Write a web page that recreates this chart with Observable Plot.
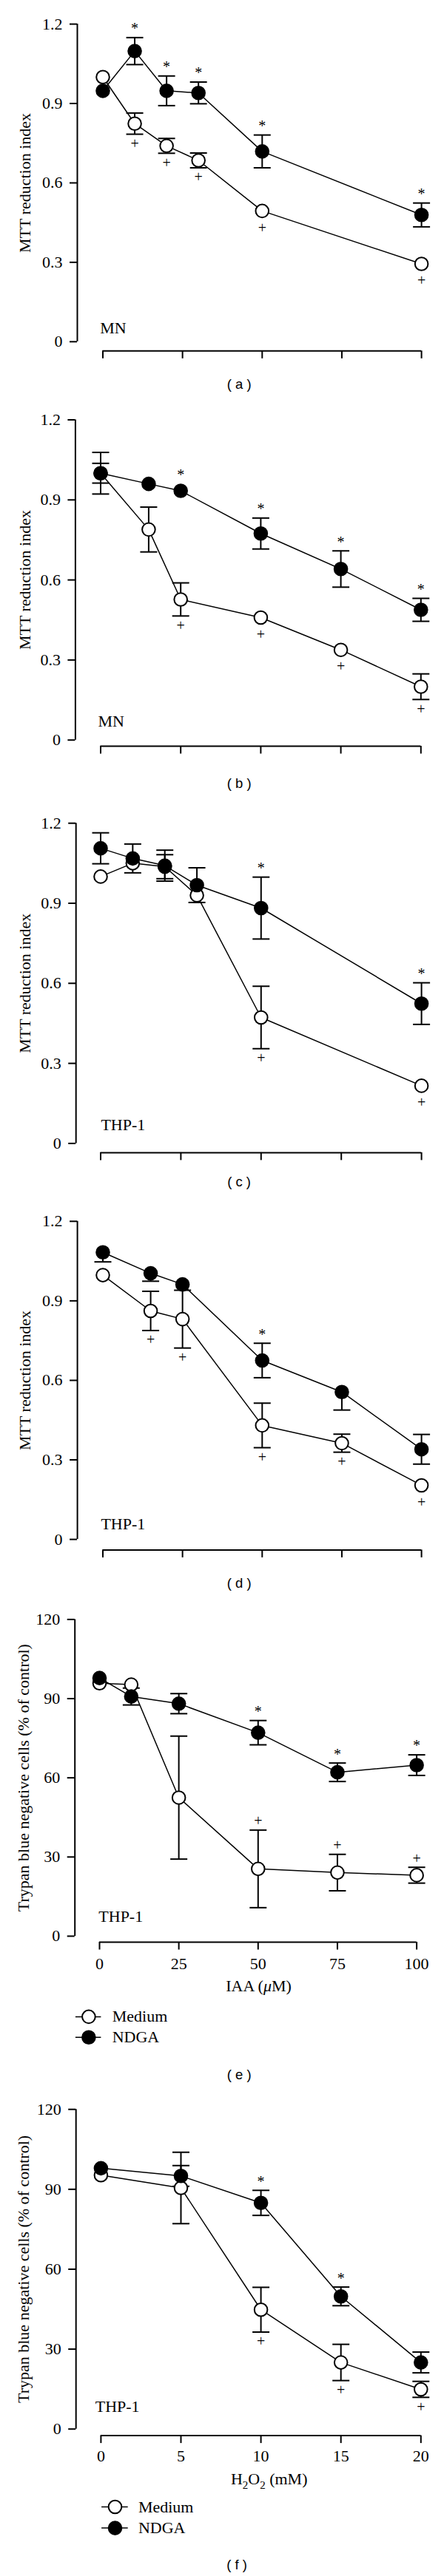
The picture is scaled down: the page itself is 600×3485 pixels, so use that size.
<!DOCTYPE html>
<html>
<head>
<meta charset="utf-8">
<script src="https://cdn.jsdelivr.net/npm/d3@7"></script>
<script src="https://cdn.jsdelivr.net/npm/@observablehq/plot@0.6"></script>
<style>
  body { margin: 0; background: #fff; }
  #page { position: relative; width: 600px; height: 3485px; background: #fff; overflow: hidden; }
  .panel { position: absolute; left: 0; width: 600px; }
</style>
</head>
<body>
<div id="page"></div>
<script>
// ---------------- DATA ----------------
// Series names
const seriesNames = ["Medium", "NDGA"];

// Panel (a) MN, MTT
const xA = [0, 10, 20, 30, 50, 100];
const mediumA = [1.00, 0.824, 0.74, 0.685, 0.494, 0.294];
const mediumErrA = [0, 0.04, 0.028, 0.028, 0, 0];
const ndgaA = [0.948, 1.098, 0.948, 0.94, 0.719, 0.479];
const ndgaErrA = [0, 0.051, 0.056, 0.041, 0.062, 0.045];
const starsA = [10, 20, 30, 50, 100];
const plusA = [10, 20, 30, 50, 100];

// Panel (b) MN, MTT
const xB = [0, 15, 25, 50, 75, 100];
const mediumB = [1.0, 0.789, 0.527, 0.459, 0.338, 0.2];
const mediumErrB = [0.078, 0.084, 0.062, 0, 0, 0.048];
const ndgaB = [1.0, 0.96, 0.934, 0.774, 0.641, 0.488];
const ndgaErrB = [0.037, 0, 0, 0.058, 0.068, 0.043];
const starsB = [25, 50, 75, 100];
const plusB = [25, 50, 75, 100];

// Panel (c) THP-1, MTT
const xC = [0, 10, 20, 30, 50, 100];
const mediumC = [1.0, 1.05, 1.037, 0.93, 0.472, 0.216];
const mediumErrC = [0, 0, 0.045, 0, 0.117, 0];
const ndgaC = [1.106, 1.068, 1.041, 0.968, 0.882, 0.524];
const ndgaErrC = [0.058, 0.054, 0.058, 0.065, 0.116, 0.078];
const starsC = [50, 100];
const plusC = [50, 100];

// Panel (d) THP-1, MTT  (one-sided bars given as [up, down])
const xD = [0, 15, 25, 50, 75, 100];
const mediumD = [0.997, 0.862, 0.831, 0.43, 0.363, 0.204];
const mediumErrD = [0, 0.074, 0.109, 0.084, 0.034, 0];
const ndgaD = [1.083, 1.004, 0.962, 0.675, 0.556, 0.34];
const ndgaErrD = [[0, 0.036], [0, 0.03], 0, 0.065, [0, 0.068], 0.056];
const starsD = [50];
const plusD = [15, 25, 50, 75, 100];

// Panel (e) THP-1, Trypan blue vs IAA
const xE = [0, 10, 25, 50, 75, 100];
const mediumE = [95.8, 95.3, 52.5, 25.5, 24.1, 23.1];
const mediumErrE = [0, 0, 23.3, 14.7, 6.9, 3.0];
const ndgaE = [97.8, 90.8, 88.1, 77.1, 62.1, 64.8];
const ndgaErrE = [0, 3.2, 3.8, 4.6, 3.5, 3.9];
const starsE = [50, 75, 100];
const plusE = [50, 75, 100];

// Panel (f) THP-1, Trypan blue vs H2O2
const xF = [0, 5, 10, 15, 20];
const mediumF = [95.3, 90.5, 44.8, 25.0, 14.9];
const mediumErrF = [0, 13.4, 8.4, 6.8, 3.0];
const ndgaF = [97.9, 95.0, 84.9, 49.8, 25.0];
const ndgaErrF = [0, 3.9, 4.7, 3.5, 3.9];
const starsF = [10, 15];
const plusF = [10, 15, 20];

// Axis ticks and labels
const mttTicks = [0, 0.3, 0.6, 0.9, 1.2];
const trypanTicks = [0, 30, 60, 90, 120];
const iaaTicks = [0, 25, 50, 75, 100];
const h2o2Ticks = [0, 5, 10, 15, 20];
const mttLabel = "MTT reduction index";
const trypanLabel = "Trypan blue negative cells (% of control)";
const iaaLabel = "IAA (μM)";
const h2o2Label = "H2O2 (mM)";
const captions = ["( a )", "( b )", "( c )", "( d )", "( e )", "( f )"];
const cellLabels = ["MN", "MN", "THP-1", "THP-1", "THP-1", "THP-1"];

// ---------------- DRAWING ----------------
const SERIF = "'Liberation Serif', 'Times New Roman', serif";
const SANS = "'Liberation Sans', Arial, sans-serif";
const R = 8.8;          // dot radius
const ROUT = 9.8;       // outer radius incl. stroke
const capSym = (hw) => ({ draw(ctx) { ctx.moveTo(-hw, 0); ctx.lineTo(hw, 0); } });

function errPair(e) { return Array.isArray(e) ? e : [e, e]; }

function buildPanel(cfg) {
  const px = (cfg.y0 - cfg.yTop) / cfg.yMax;
  const rows = [];
  cfg.x.forEach((xv, i) => {
    const [mu, md] = errPair(cfg.medErr[i]);
    const [nu, nd] = errPair(cfg.ndgErr[i]);
    rows.push({x: xv, y: cfg.med[i], up: mu, down: md, s: seriesNames[0]});
    rows.push({x: xv, y: cfg.ndg[i], up: nu, down: nd, s: seriesNames[1]});
  });
  const med = rows.filter(d => d.s === "Medium");
  const ndg = rows.filter(d => d.s === "NDGA");
  const errRows = rows.filter(d => d.up > 0 || d.down > 0);
  const caps = [];
  errRows.forEach(d => {
    if (d.up > 0) caps.push({x: d.x, y: d.y + d.up});
    if (d.down > 0) caps.push({x: d.x, y: d.y - d.down});
  });
  const annot = (list, series, glyph, above) => list.map(xv => {
    const d = rows.find(r => r.s === series && r.x === xv);
    const y = above
      ? d.y + (Math.max(d.up * px, ROUT) + 12) / px
      : d.y - (Math.max(d.down * px, ROUT) + 13) / px;
    return {x: xv, y, t: glyph};
  });
  const stars = annot(cfg.stars, "NDGA", "*", true);
  const pluses = annot(cfg.plus, "Medium", "+", cfg.plusAbove);

  const frameMid = (cfg.yTop + cfg.xAxisY) / 2;
  const axisMid = (cfg.yTop + cfg.y0) / 2;
  const frameCenterX = (cfg.yAxisX + cfg.x1px) / 2;

  const marks = [
    // axis lines
    Plot.ruleX([0], {y1: 0, y2: cfg.yMax, dx: cfg.yAxisX - cfg.x0px, stroke: "black", strokeWidth: 2}),
    Plot.ruleY([0], {x1: cfg.xDomain[0], x2: cfg.xDomain[1], dy: cfg.xAxisY - cfg.y0, stroke: "black", strokeWidth: 2}),
    Plot.axisY(cfg.yTicks, {tickSize: 10, tickPadding: 10, strokeWidth: 2, label: null,
      tickFormat: cfg.yFormat, fontSize: 22, fontFamily: SERIF}),
    Plot.axisX(cfg.xTicks, {tickSize: 10.5, tickPadding: cfg.xTickPad, strokeWidth: 2, label: null,
      tickFormat: cfg.xTickLabels ? (d => String(d)) : (() => ""), fontSize: 22, fontFamily: SERIF}),
    // y label
    Plot.text([cfg.yLabel], {text: d => d, frameAnchor: "left", rotate: -90,
      dx: cfg.yLabelX - cfg.yAxisX, dy: axisMid - frameMid,
      textAnchor: "middle", lineAnchor: "bottom", fontSize: 22, fontFamily: SERIF}),
    // lines
    Plot.line(med, {x: "x", y: "y", stroke: "black", strokeWidth: 1.5}),
    Plot.line(ndg, {x: "x", y: "y", stroke: "black", strokeWidth: 1.5}),
    // error bars
    Plot.ruleX(errRows, {x: "x", y1: d => d.y - d.down, y2: d => d.y + d.up, stroke: "black", strokeWidth: 2}),
    Plot.dot(caps, {x: "x", y: "y", symbol: capSym(11.5), r: 5, fill: "none", stroke: "black", strokeWidth: 2}),
    // points
    Plot.dot(med, {x: "x", y: "y", r: R, fill: "white", stroke: "black", strokeWidth: 2}),
    Plot.dot(ndg, {x: "x", y: "y", r: R, fill: "black", stroke: "black", strokeWidth: 2}),
    // significance marks
    Plot.text(stars, {x: "x", y: "y", text: "t", fontSize: 20, fontFamily: SERIF, lineAnchor: "middle"}),
    Plot.text(pluses, {x: "x", y: "y", text: "t", fontSize: 20, fontFamily: SERIF, lineAnchor: "middle"}),
    // cell label
    Plot.text([cfg.cell], {text: d => d, frameAnchor: "bottom-left",
      dx: cfg.cellX - cfg.yAxisX, dy: cfg.cellBaseline - cfg.xAxisY,
      textAnchor: "start", lineAnchor: "bottom", fontSize: 22, fontFamily: SERIF}),
    // caption
    Plot.text([cfg.caption], {text: d => d, frameAnchor: "bottom",
      dx: cfg.captionX - frameCenterX, dy: cfg.captionY - cfg.xAxisY,
      lineAnchor: "middle", fontSize: 18.5, fontFamily: SANS})
  ];

  if (cfg.xLabel) {
    marks.push(Plot.text([cfg.xLabel], {text: d => d, frameAnchor: "bottom-left",
      dx: cfg.xLabelPos[0] - cfg.yAxisX, dy: cfg.xLabelPos[1] - cfg.xAxisY,
      lineAnchor: "middle", textAnchor: "middle", fontSize: 22, fontFamily: SERIF}));
  }
  if (cfg.legend) {
    const L = cfg.legend;
    seriesNames.forEach((name, i) => {
      const ly = L.rows[i] - cfg.xAxisY;
      marks.push(Plot.dot([name], {frameAnchor: "bottom-left", dx: (L.line[0] + L.line[1]) / 2 - cfg.yAxisX, dy: ly,
        symbol: capSym((L.line[1] - L.line[0]) / 2), r: 5, fill: "none", stroke: "black", strokeWidth: 1.5}));
      marks.push(Plot.dot([name], {frameAnchor: "bottom-left", dx: L.circle - cfg.yAxisX, dy: ly,
        r: R, fill: i === 0 ? "white" : "black", stroke: "black", strokeWidth: 2}));
      marks.push(Plot.text([name], {text: d => d, frameAnchor: "bottom-left", dx: L.text - cfg.yAxisX, dy: ly,
        textAnchor: "start", lineAnchor: "middle", fontSize: 22, fontFamily: SERIF}));
    });
  }

  const svg = Plot.plot({
    width: 600,
    height: cfg.height,
    marginLeft: cfg.yAxisX,
    marginRight: 600 - cfg.x1px,
    marginTop: cfg.yTop,
    marginBottom: cfg.height - cfg.xAxisY,
    x: {type: "linear", domain: cfg.xDomain, range: [cfg.x0px, cfg.x1px]},
    y: {type: "linear", domain: [0, cfg.yMax], range: [cfg.y0, cfg.yTop]},
    style: {fontFamily: SERIF, fontSize: "22px", color: "black", background: "white", overflow: "visible"},
    marks
  });

  // typographic refinements of the x-axis titles
  svg.querySelectorAll("text").forEach(t => {
    if (t.textContent === h2o2Label) {
      t.textContent = "";
      const parts = [["H", 0, null], ["2", 6, 15], ["O", -6, null], ["2", 6, 15], [" (mM)", -6, null]];
      parts.forEach(([s, dy, fs]) => {
        const sp = document.createElementNS("http://www.w3.org/2000/svg", "tspan");
        sp.textContent = s;
        if (dy) sp.setAttribute("dy", dy);
        if (fs) sp.setAttribute("font-size", fs);
        t.appendChild(sp);
      });
    } else if (t.textContent === iaaLabel) {
      t.textContent = "";
      [["IAA (", false], ["μ", true], ["M)", false]].forEach(([s, it]) => {
        const sp = document.createElementNS("http://www.w3.org/2000/svg", "tspan");
        sp.textContent = s;
        if (it) sp.setAttribute("font-style", "italic");
        t.appendChild(sp);
      });
    }
  });

  const div = document.createElement("div");
  div.className = "panel";
  div.style.top = cfg.top + "px";
  div.appendChild(svg);
  document.getElementById("page").appendChild(div);
}

const mttFmt = d => d === 0 ? "0" : d.toFixed(1);

const panels = [
  {top: 0, height: 540, yAxisX: 104, x0px: 138.5, x1px: 569.1, yTop: 32.1, y0: 461.8, xAxisY: 474.3,
   x: xA, med: mediumA, medErr: mediumErrA, ndg: ndgaA, ndgErr: ndgaErrA, stars: starsA, plus: plusA, plusAbove: false,
   yMax: 1.2, yTicks: mttTicks, yFormat: mttFmt, yLabel: mttLabel, yLabelX: 40.2,
   xDomain: [0, 100], xTicks: iaaTicks, xTickLabels: false, xTickPad: 10,
   cell: cellLabels[0], cellX: 134.7, cellBaseline: 450.7, caption: captions[0], captionX: 322.6, captionY: 519.6},
  {top: 540, height: 550, yAxisX: 101.4, x0px: 135.5, x1px: 568.3, yTop: 27.5, y0: 460.7, xAxisY: 469,
   x: xB, med: mediumB, medErr: mediumErrB, ndg: ndgaB, ndgErr: ndgaErrB, stars: starsB, plus: plusB, plusAbove: false,
   yMax: 1.2, yTicks: mttTicks, yFormat: mttFmt, yLabel: mttLabel, yLabelX: 40.2,
   xDomain: [0, 100], xTicks: iaaTicks, xTickLabels: false, xTickPad: 10,
   cell: cellLabels[1], cellX: 132, cellBaseline: 442.9, caption: captions[1], captionX: 322.6, captionY: 519.6},
  {top: 1090, height: 540, yAxisX: 102.2, x0px: 135.5, x1px: 569.1, yTop: 23.2, y0: 456.4, xAxisY: 468.9,
   x: xC, med: mediumC, medErr: mediumErrC, ndg: ndgaC, ndgErr: ndgaErrC, stars: starsC, plus: plusC, plusAbove: false,
   yMax: 1.2, yTicks: mttTicks, yFormat: mttFmt, yLabel: mttLabel, yLabelX: 40.2,
   xDomain: [0, 100], xTicks: iaaTicks, xTickLabels: false, xTickPad: 10,
   cell: cellLabels[2], cellX: 135.9, cellBaseline: 438.6, caption: captions[2], captionX: 322.6, captionY: 508.2},
  {top: 1630, height: 540, yAxisX: 104.1, x0px: 138.5, x1px: 569.1, yTop: 21.8, y0: 452.1, xAxisY: 466.4,
   x: xD, med: mediumD, medErr: mediumErrD, ndg: ndgaD, ndgErr: ndgaErrD, stars: starsD, plus: plusD, plusAbove: false,
   yMax: 1.2, yTicks: mttTicks, yFormat: mttFmt, yLabel: mttLabel, yLabelX: 40.2,
   xDomain: [0, 100], xTicks: iaaTicks, xTickLabels: false, xTickPad: 10,
   cell: cellLabels[3], cellX: 135.9, cellBaseline: 438.6, caption: captions[3], captionX: 322.6, captionY: 511.8},
  {top: 2170, height: 660, yAxisX: 100.7, x0px: 134, x1px: 562.6, yTop: 20.4, y0: 448.9, xAxisY: 457,
   x: xE, med: mediumE, medErr: mediumErrE, ndg: ndgaE, ndgErr: ndgaErrE, stars: starsE, plus: plusE, plusAbove: true,
   yMax: 120, yTicks: trypanTicks, yFormat: d => String(d), yLabel: trypanLabel, yLabelX: 38.5,
   xDomain: [0, 100], xTicks: iaaTicks, xTickLabels: true, xTickPad: 10,
   xLabel: iaaLabel, xLabelPos: [349, 516.8],
   legend: {rows: [557.9, 585.7], line: [101.4, 135.9], circle: 119.4, text: 151.2},
   cell: cellLabels[4], cellX: 132.8, cellBaseline: 429.3, caption: captions[4], captionX: 322.6, captionY: 636.4},
  {top: 2830, height: 655, yAxisX: 102.2, x0px: 135.9, x1px: 568.3, yTop: 23.2, y0: 455.7, xAxisY: 464.6,
   x: xF, med: mediumF, medErr: mediumErrF, ndg: ndgaF, ndgErr: ndgaErrF, stars: starsF, plus: plusF, plusAbove: false,
   yMax: 120, yTicks: trypanTicks, yFormat: d => String(d), yLabel: trypanLabel, yLabelX: 38.9,
   xDomain: [0, 20], xTicks: h2o2Ticks, xTickLabels: true, xTickPad: 8.5,
   xLabel: h2o2Label, xLabelPos: [363.2, 523.6],
   legend: {rows: [561, 589.6], line: [136.6, 172.2], circle: 155, text: 186.4},
   cell: cellLabels[5], cellX: 128.2, cellBaseline: 432.5, caption: captions[5], captionX: 319.6, captionY: 639.6}
];

panels.forEach(buildPanel);
</script>
</body>
</html>
